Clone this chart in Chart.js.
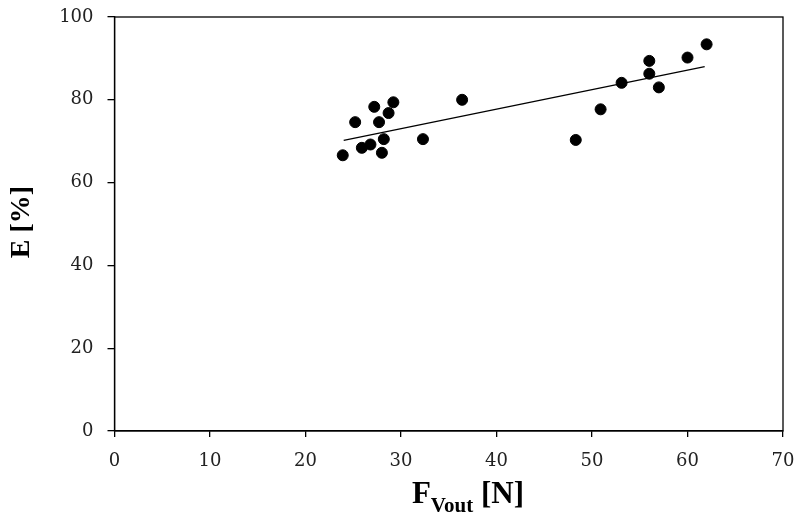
<!DOCTYPE html>
<html>
<head>
<meta charset="utf-8">
<script src="https://cdn.jsdelivr.net/npm/chart.js@4"></script>
<style>
  html, body { margin: 0; padding: 0; background: #fff; }
  #wrap { width: 800px; height: 517px; }
</style>
</head>
<body>
<div id="wrap"><canvas id="myChart"></canvas></div>
<script>
// measured values
const fVout = [23.9, 25.2, 25.9, 26.8, 27.2, 27.7, 28.0, 28.2, 28.7, 29.2, 32.3, 36.4,
  48.3, 50.9, 53.1, 56.0, 56.0, 57.0, 60.0, 62.0];
const efficiency = [66.6, 74.6, 68.4, 69.2, 78.3, 74.6, 67.2, 70.5, 76.8, 79.4, 70.5, 80.0,
  70.3, 77.7, 84.1, 89.4, 86.3, 83.0, 90.2, 93.4];
// linear trend line end points
const trendX = [24.0, 61.8];
const trendY = [70.2, 88.0];
const xTicks = [0, 10, 20, 30, 40, 50, 60, 70];
const yTicks = [0, 20, 40, 60, 80, 100];

const serif = "'Liberation Serif', 'Times New Roman', serif";
const tickFont = "'DejaVu Serif', serif";

// frame + axis titles (x title needs a subscript)
const framePlugin = {
  id: "frame",
  afterDraw(chart) {
    const { ctx, chartArea: a } = chart;
    ctx.save();
    ctx.strokeStyle = "#000";
    ctx.lineWidth = 1.3;
    ctx.strokeRect(a.left, a.top, a.right - a.left, a.bottom - a.top);

    ctx.fillStyle = "#000";
    ctx.textBaseline = "alphabetic";
    // x title: F_Vout [N]
    const big = "bold 31px " + serif;
    const small = "bold 21px " + serif;
    ctx.font = big;
    const wF = ctx.measureText("F").width;
    const wN = ctx.measureText(" [N]").width;
    ctx.font = small;
    const wV = ctx.measureText("Vout").width;
    let x = 468 - (wF + wV + wN) / 2;
    const base = 503;
    ctx.font = big;
    ctx.fillText("F", x, base);
    x += wF;
    ctx.font = small;
    ctx.fillText("Vout", x, base + 9);
    x += wV;
    ctx.font = big;
    ctx.fillText(" [N]", x, base);

    // y title
    ctx.translate(29, 222);
    ctx.rotate(-Math.PI / 2);
    ctx.font = "bold 28px " + serif;
    ctx.textAlign = "center";
    ctx.fillText("E [%]", 0, 0);
    ctx.restore();
  },
};

const ctx = document.getElementById("myChart");
new Chart(ctx, {
  type: "scatter",
  data: {
    datasets: [
      {
        label: "E",
        data: fVout.map((v, i) => ({ x: v, y: efficiency[i] })),
        backgroundColor: "#000",
        borderColor: "#000",
        pointRadius: 5.5,
        pointHoverRadius: 5.5,
      },
      {
        label: "trend",
        type: "line",
        data: trendX.map((v, i) => ({ x: v, y: trendY[i] })),
        borderColor: "#000",
        borderWidth: 1.3,
        pointRadius: 0,
        fill: false,
      },
    ],
  },
  options: {
    responsive: true,
    maintainAspectRatio: false,
    animation: false,
    layout: { padding: { top: 17, right: 17, left: 0, bottom: 0 } },
    plugins: {
      legend: { display: false },
      tooltip: { enabled: false },
    },
    scales: {
      x: {
        type: "linear",
        min: 0,
        max: 70,
        afterBuildTicks: (s) => { s.ticks = xTicks.map((v) => ({ value: v })); },
        afterFit: (s) => { s.height = 86; s.paddingLeft = 0; s.paddingRight = 0; },
        grid: { drawOnChartArea: false, drawTicks: true, tickLength: 6, color: "#000", lineWidth: 1.3 },
        border: { display: true, color: "#000", width: 1.3 },
        ticks: { color: "#222", padding: 14, font: { family: tickFont, size: 18 } },
      },
      y: {
        min: 0,
        max: 100,
        afterBuildTicks: (s) => { s.ticks = yTicks.map((v) => ({ value: v })); },
        afterFit: (s) => { s.width = 114.5; s.paddingTop = 0; s.paddingBottom = 0; },
        grid: { drawOnChartArea: false, drawTicks: true, tickLength: 7, color: "#000", lineWidth: 1.3 },
        border: { display: true, color: "#000", width: 1.3 },
        ticks: { color: "#222", padding: 14, font: { family: tickFont, size: 18 } },
      },
    },
  },
  plugins: [framePlugin],
});
</script>
</body>
</html>
